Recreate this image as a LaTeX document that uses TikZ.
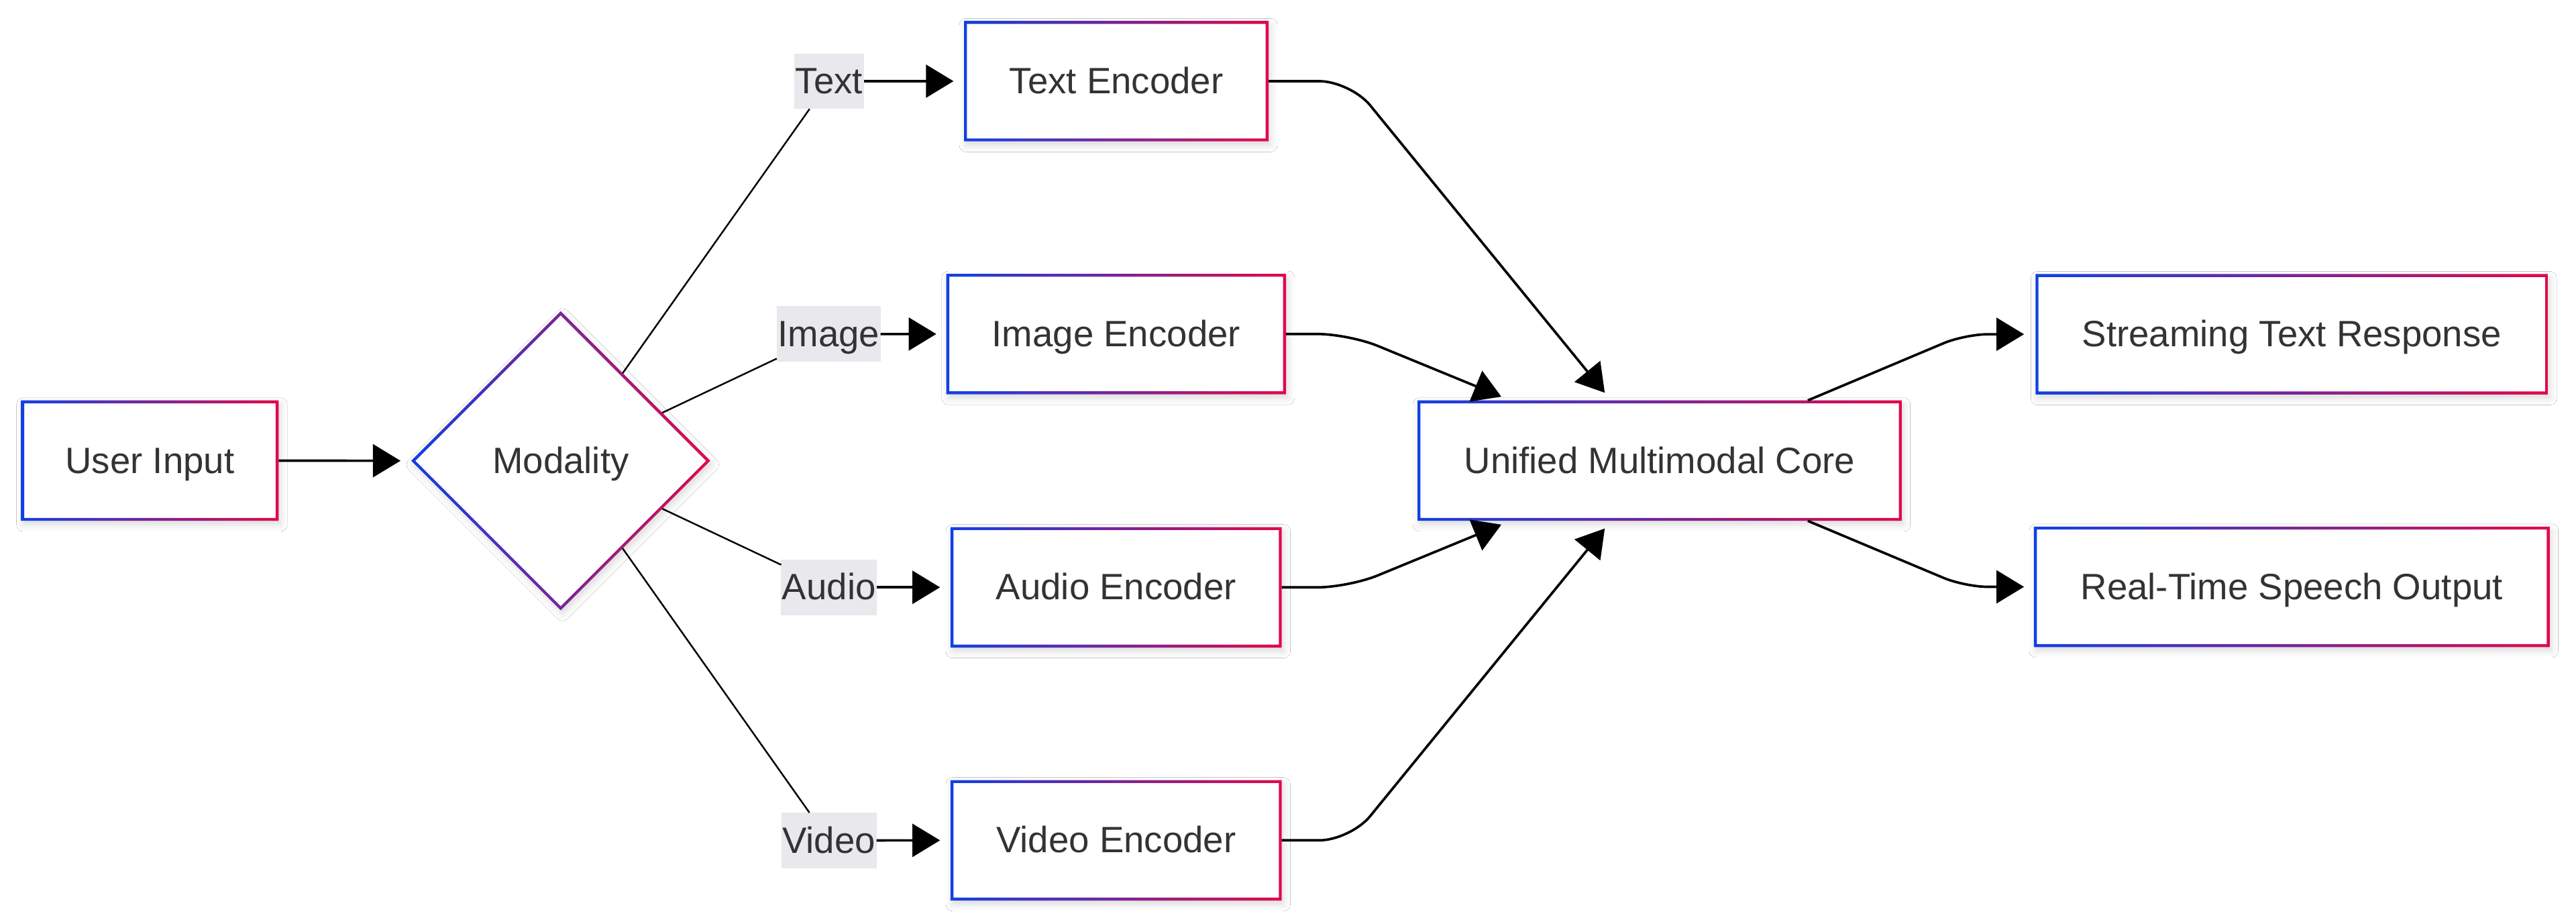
\documentclass[tikz,border=0pt]{standalone}
\usepackage{fontspec}
\setmainfont{Liberation Sans}
\usetikzlibrary{arrows.meta,shapes.geometric,shadows.blur}
\definecolor{gblue}{RGB}{16,64,228}
\definecolor{gred}{RGB}{226,8,74}
\definecolor{txt}{RGB}{51,51,51}
\definecolor{lblbg}{RGB}{232,232,237}
\newcommand\gradrect[1]{%
  \shade[left color=gblue,right color=gred,even odd rule]
    (#1.north west) rectangle (#1.south east)
    ([xshift=1.8pt,yshift=-1.8pt]#1.north west) rectangle ([xshift=-1.8pt,yshift=1.8pt]#1.south east);}
\newcommand\graddiam[1]{%
  \shade[left color=gblue,right color=gred,even odd rule]
    (#1.west) -- (#1.north) -- (#1.east) -- (#1.south) -- cycle
    ([xshift=2.5pt]#1.west) -- ([yshift=-2.5pt]#1.north) -- ([xshift=-2.5pt]#1.east) -- ([yshift=2.5pt]#1.south) -- cycle;}
\begin{document}
\begin{tikzpicture}[x=1pt,y=-1pt,
  every node/.style={font=\fontsize{22.3pt}{26pt}\selectfont, text=txt, outer sep=0pt,
    text height=17pt, text depth=1.8pt},
  softshadow/.style={blur shadow={shadow xshift=1.2pt, shadow yshift=-2.4pt,
    shadow blur radius=4pt, shadow opacity=14}},
  box/.style={rectangle, fill=white, minimum height=73.3pt, inner sep=0pt, softshadow},
  decision/.style={diamond, aspect=1, fill=white, minimum width=182pt, minimum height=182pt,
    inner sep=0pt, softshadow},
  lbl/.style={rectangle, fill=lblbg, minimum height=33.8pt, inner xsep=0.6pt, inner ysep=0pt},
  thinline/.style={line width=1.0pt, black},
  arr/.style={line width=1.5pt, black, -{Triangle[length=16.8pt,width=20pt]}},
]
\fill[white] (0,0) rectangle (1568,562.27);
\useasboundingbox (0,0) rectangle (1568,562.27);

% nodes
\node[box, minimum width=156.7pt] (ui) at (91.25,280.3) {User Input};
\node[decision] (mod) at (341.3,280.4) {Modality};

\node[box, minimum width=185.4pt] (te) at (679.5,49.4) {Text Encoder};
\node[box, minimum width=206.8pt] (ie) at (679.4,203.25) {Image Encoder};
\node[box, minimum width=201.6pt] (ae) at (679.4,357.4) {Audio Encoder};
\node[box, minimum width=201.6pt] (ve) at (679.4,511.35) {Video Encoder};

\node[box, minimum width=294.8pt] (core) at (1010.2,280.3) {Unified Multimodal Core};
\node[box, minimum width=312pt] (st) at (1395,203.4) {Streaming Text Response};
\node[box, minimum width=314pt] (sp) at (1395,357.1) {Real-Time Speech Output};

\node[lbl] (lt) at (504.7,49.4) {Text};
\node[lbl] (li) at (504.4,203.3) {Image};
\node[lbl] (la) at (504.6,357.4) {Audio};
\node[lbl] (lv) at (504.6,511.4) {Video};

% gradient borders
\gradrect{ui}
\graddiam{mod}
\gradrect{te}
\gradrect{ie}
\gradrect{ae}
\gradrect{ve}
\gradrect{core}
\gradrect{st}
\gradrect{sp}

% connectors
\draw[arr, shorten >=6.5pt] (ui.east) -- (mod.west);

\draw[thinline] (mod) -- (lt);
\draw[thinline] (mod) -- (li);
\draw[thinline] (mod) -- (la);
\draw[thinline] (mod) -- (lv);

\draw[arr, shorten >=6.4pt] (lt.east) -- (te.west);
\draw[arr, shorten >=6.1pt] (li.east) -- (ie.west);
\draw[arr, shorten >=6.4pt] (la.east) -- (ae.west);
\draw[arr, shorten >=6.4pt] (lv.east) -- (ve.west);

\draw[arr, shorten >=6pt, rounded corners=19pt]
  (te.east) -- ([xshift=49.8pt]te.east) -- ([xshift=117.8pt]core.north west);
\draw[arr, shorten >=6pt, rounded corners=19pt]
  (ie.east) -- ([xshift=38.2pt]ie.east) -- ([xshift=56.6pt]core.north west);
\draw[arr, shorten >=6pt, rounded corners=19pt]
  (ae.east) -- ([xshift=40.8pt]ae.east) -- ([xshift=56.6pt]core.south west);
\draw[arr, shorten >=6pt, rounded corners=19pt]
  (ve.east) -- ([xshift=41.8pt]ve.east) -- ([xshift=117.8pt]core.south west);

\draw[arr, shorten >=7pt, rounded corners=14pt]
  ([xshift=-57.2pt]core.north east) -- ([xshift=-43pt]st.west) -- (st.west);
\draw[arr, shorten >=6pt, rounded corners=14pt]
  ([xshift=-57.2pt]core.south east) -- ([xshift=-42pt]sp.west) -- (sp.west);
\end{tikzpicture}
\end{document}
